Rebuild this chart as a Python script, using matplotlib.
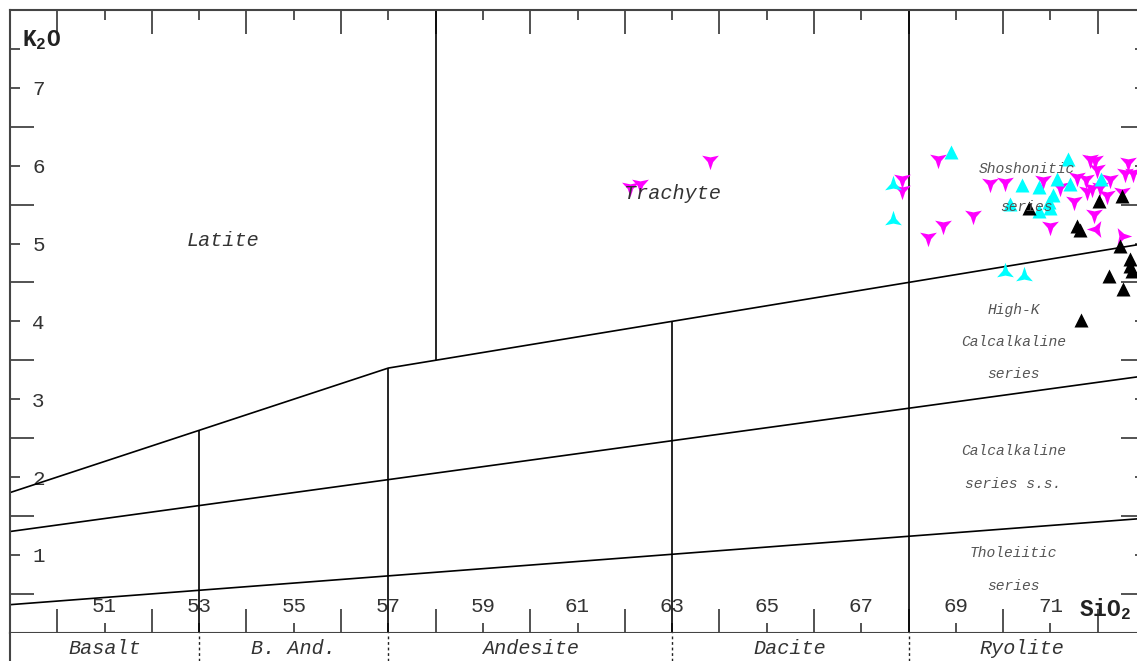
import numpy as np
import matplotlib
matplotlib.use("Agg")
import matplotlib.pyplot as plt

plt.rcParams['font.family'] = ['Liberation Mono', 'DejaVu Sans Mono']
plt.rcParams['mathtext.fontset'] = 'custom'
plt.rcParams['mathtext.rm'] = 'Liberation Mono:bold'
plt.rcParams['mathtext.it'] = 'Liberation Mono:bold'
plt.rcParams['mathtext.bf'] = 'Liberation Mono:bold'

# boundary lines of the SiO2 - K2O diagram
shosho_x = [49, 57, 73]
shosho_y = [1.8, 3.4, 5.0]
highk_x = [49, 73]
highk_y = [1.3, 3.3]
thol_x = [49, 73]
thol_y = [0.36, 1.47]
div_x = [53, 57, 58, 63, 68]
div_lo = [0.0, 0.0, 3.5, 0.0, 0.0]
div_hi = [2.6, 3.4, 8.0, 4.0, 8.0]

# samples
mag_x = [62.11, 62.32, 63.80, 68.63, 67.87, 67.87, 69.72, 70.04, 69.37, 68.72, 68.41,
         70.85, 71.20, 71.56, 71.75, 71.84, 71.98, 71.95, 72.26, 72.65, 72.58, 72.74,
         71.87, 72.05, 71.77, 72.19, 72.51, 71.49, 71.92, 71.00]
mag_y = [5.72, 5.77, 6.07, 6.09, 5.83, 5.69, 5.78, 5.79, 5.36, 5.24, 5.08,
         5.82, 5.73, 5.86, 5.83, 6.09, 5.96, 6.07, 5.83, 6.05, 5.90, 5.90,
         5.71, 5.73, 5.68, 5.62, 5.66, 5.55, 5.38, 5.23]
mag_left_x = [71.96]
mag_left_y = [5.19]
mag_right_x = [72.51]
mag_right_y = [5.10]
cyan_tri_x = [68.90, 71.38, 70.40, 70.75, 71.13, 71.42, 72.08, 71.06, 70.15, 70.96, 70.75, 71.00]
cyan_tri_y = [6.18, 6.08, 5.75, 5.72, 5.83, 5.77, 5.83, 5.62, 5.51, 5.53, 5.42, 5.45]
cyan_star_x = [67.67, 67.67, 70.04, 70.44]
cyan_star_y = [5.75, 5.30, 4.63, 4.58]
black_x = [70.54, 72.02, 72.51, 71.56, 71.62, 72.47, 72.68, 72.68, 72.72, 72.23, 72.53, 71.64]
black_y = [5.45, 5.55, 5.61, 5.23, 5.17, 4.97, 4.80, 4.71, 4.65, 4.58, 4.42, 4.02]

rocks = ['Basalt', 'B. And.', 'Andesite', 'Dacite', 'Ryolite']
rock_x = [51.0, 55.0, 60.0, 65.5, 70.4]
rock_div = [53, 57, 63, 68]


def star(angle_deg, inner=0.32):
    # three-armed star marker with concave sides
    pts = []
    for k in range(3):
        a = np.radians(angle_deg + 120 * k)
        pts.append((np.cos(a), np.sin(a)))
        b = a + np.radians(60)
        pts.append((inner * np.cos(b), inner * np.sin(b)))
    pts.append(pts[0])
    return pts


W, H = 1137, 661
fig = plt.figure(figsize=(W / 100, H / 100), dpi=100)
ax = fig.add_axes([10 / W, 1 - 632.7 / H, 1135 / W, 622.7 / H])
band = fig.add_axes([10 / W, 0, 1135 / W, 1 - 632.7 / H], sharex=ax)

ax.set_xlim(49, 73)
ax.set_ylim(0, 8)

line_kw = dict(color='black', lw=1.2)
ax.plot(shosho_x, shosho_y, **line_kw)
ax.plot(highk_x, highk_y, **line_kw)
ax.plot(thol_x, thol_y, **line_kw)
ax.vlines(div_x, div_lo, div_hi, **line_kw)

# data points
ax.plot(mag_x, mag_y, ls='none', marker=star(-90), ms=14, color='#ff00ff', mec='none')
ax.plot(mag_left_x, mag_left_y, ls='none', marker=star(180), ms=14, color='#ff00ff', mec='none')
ax.plot(mag_right_x, mag_right_y, ls='none', marker=star(0), ms=14, color='#ff00ff', mec='none')
ax.plot(cyan_tri_x, cyan_tri_y, ls='none', marker='^', ms=10.5, color='#00ffff', mec='none')
ax.plot(cyan_star_x, cyan_star_y, ls='none', marker=star(90), ms=14, color='#00ffff', mec='none')
ax.plot(black_x, black_y, ls='none', marker='^', ms=10, color='black', mec='none')

# field names
ax.text(53.5, 5.04, 'Latite', fontsize=14.5, style='italic', color='#333333', ha='center', va='center')
ax.text(63.0, 5.64, 'Trachyte', fontsize=14.5, style='italic', color='#333333', ha='center', va='center')
small = dict(fontsize=10.5, style='italic', color='#555555', ha='center', va='center')
ax.text(70.5, 5.96, 'Shoshonitic', **small)
ax.text(70.5, 5.47, 'series', **small)
ax.text(70.22, 4.14, 'High-K', **small)
ax.text(70.22, 3.73, 'Calcalkaline', **small)
ax.text(70.22, 3.32, 'series', **small)
ax.text(70.22, 2.33, 'Calcalkaline', **small)
ax.text(70.22, 1.91, 'series s.s.', **small)
ax.text(70.22, 1.03, 'Tholeiitic', **small)
ax.text(70.22, 0.60, 'series', **small)

# axis names
ax.text(49.25, 7.62, r'$\mathrm{K_2O}$', fontsize=16.5, ha='left', va='center', color='#222222')
ax.text(71.6, 0.31, r'$\mathrm{SiO_2}$', fontsize=16.5, ha='left', va='center', color='#222222')

# ticks
spine_c = '#444444'
for s in ax.spines.values():
    s.set_color(spine_c)
    s.set_linewidth(1.5)
ax.set_xticks(np.arange(51, 72, 2))
ax.set_xticks(np.arange(50, 73, 2), minor=True)
ax.set_yticks(list(range(1, 8)) + [7.5])
ax.set_yticklabels([str(v) for v in range(1, 8)] + [''])
ax.set_yticks(np.arange(0.5, 7, 1.0), minor=True)
ax.tick_params(which='both', direction='in', top=True, right=True, color=spine_c, width=1.3,
               labelsize=15, labelcolor='#333333')
ax.tick_params(which='major', length=7)
ax.tick_params(which='minor', length=17)
ax.tick_params(axis='x', which='major', pad=-26)
ax.tick_params(axis='y', which='major', pad=-16)
for lab in ax.get_yticklabels():
    lab.set_horizontalalignment('left')

# rock name band
band.set_ylim(0, 1)
band.set_yticks([])
band.tick_params(axis='x', which='both', bottom=False, labelbottom=False)
for side in ['top', 'bottom']:
    band.spines[side].set_visible(False)
for side in ['left', 'right']:
    band.spines[side].set_color(spine_c)
    band.spines[side].set_linewidth(1.5)
band.vlines(rock_div, 0, 1, color='#222222', lw=1.0, linestyles=(0, (2, 2)))
for name, x in zip(rocks, rock_x):
    band.text(x, 0.45, name, fontsize=14.5, style='italic', color='#333333', ha='center', va='center')

fig.savefig('out.png', dpi=100)
